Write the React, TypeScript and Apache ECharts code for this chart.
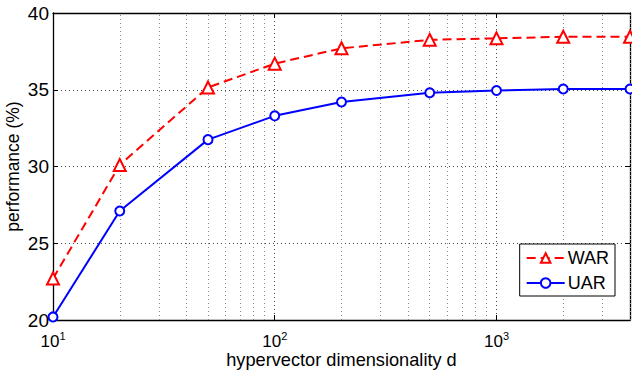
import React, { useEffect, useRef } from "react";
import * as echarts from "echarts";

const dims = [10, 20, 50, 100, 200, 500, 1000, 2000, 4000];
const warValues = [22.7, 30.1, 35.15, 36.7, 37.7, 38.25, 38.35, 38.45, 38.45];
const uarValues = [20.2, 27.1, 31.75, 33.3, 34.2, 34.8, 34.95, 35.05, 35.05];
const minorGrid = [20, 30, 40, 50, 60, 70, 80, 90, 200, 300, 400, 500, 600, 700, 800, 900, 2000, 3000, 4000];
const yTicks = [20, 25, 30, 35, 40];

const FONT = "Liberation Sans";

export default function App() {
  const ref = useRef<HTMLDivElement>(null);
  useEffect(() => {
    if (!ref.current) return;
    const chart = echarts.init(ref.current, null, { renderer: "svg" });
    const pow = (v: number) => {
      const e = Math.round(Math.log10(v));
      if (Math.abs(Math.pow(10, e) - v) < 1e-6 && v < 4000) return `{b|10}{s|${e}}`;
      return "";
    };
    chart.setOption({
      animation: false,
      textStyle: { fontFamily: FONT },
      grid: { left: 53, right: 2, top: 13, bottom: 51, containLabel: false, outerBoundsMode: "none" },
      legend: {
        orient: "vertical",
        right: 17,
        top: 244,
        backgroundColor: "#fff",
        borderColor: "#000",
        borderWidth: 1,
        borderRadius: 0,
        padding: [5, 6, 4, 6],
        itemGap: 7,
        itemWidth: 38,
        itemHeight: 12,
        textStyle: { fontFamily: FONT, fontSize: 18, color: "#000", padding: [0, 0, 0, -2] },
        data: ["WAR", "UAR"],
      },
      xAxis: [
        {
          type: "log",
          logBase: 10,
          min: 10,
          max: 4000,
          name: "hypervector dimensionality d",
          nameLocation: "middle",
          nameGap: 31,
          nameMoveOverlap: false,
          nameTextStyle: { fontFamily: FONT, fontSize: 18.2, color: "#000" },
          axisLine: { show: true, onZero: false, lineStyle: { color: "#000", width: 1.3 } },
          axisTick: { show: true, inside: true, length: 5, lineStyle: { color: "#000" } },
          axisLabel: {
            formatter: pow,
            margin: 10,
            showMaxLabel: false,
            rich: {
              b: { fontFamily: FONT, fontSize: 17, color: "#000" },
              s: { fontFamily: FONT, fontSize: 11, color: "#000", padding: [0, 0, 12, 0] },
            },
          },
          splitLine: { show: true, lineStyle: { color: "#444", type: [1, 3], width: 1 } },
        },
        {
          type: "log",
          logBase: 10,
          min: 10,
          max: 4000,
          position: "top",
          axisLine: { show: true, onZero: false, lineStyle: { color: "#000", width: 1.3 } },
          axisTick: { show: true, inside: true, length: 5, lineStyle: { color: "#000" } },
          axisLabel: { show: false },
          splitLine: { show: false },
        },
      ],
      yAxis: [
        {
          type: "value",
          min: 20,
          max: 40,
          interval: 5,
          name: "performance (%)",
          nameLocation: "middle",
          nameGap: 31,
          nameMoveOverlap: false,
          nameTextStyle: { fontFamily: FONT, fontSize: 17.5, color: "#000" },
          axisLine: { show: true, onZero: false, lineStyle: { color: "#000", width: 1.3 } },
          axisTick: { show: true, inside: true, length: 5, lineStyle: { color: "#000" } },
          axisLabel: {
            fontFamily: FONT,
            fontSize: 19,
            color: "#000",
            margin: 4,
            formatter: (v: number) => (yTicks.includes(v) ? String(v) : ""),
          },
          splitLine: { show: true, lineStyle: { color: "#444", type: [1, 3], width: 1 } },
        },
        {
          type: "value",
          min: 20,
          max: 40,
          interval: 5,
          position: "right",
          axisLine: { show: true, onZero: false, lineStyle: { color: "#000", width: 1.3 } },
          axisTick: { show: true, inside: true, length: 5, lineStyle: { color: "#000" } },
          axisLabel: { show: false },
          splitLine: { show: false },
        },
      ],
      series: [
        {
          name: "WAR",
          type: "line",
          data: dims.map((d, i) => [d, warValues[i]]),
          symbol: "triangle",
          symbolSize: 12,
          lineStyle: { color: "#ff0000", width: 2, type: [9, 5] },
          itemStyle: { color: "#fff", borderColor: "#ff0000", borderWidth: 2 },
          z: 3,
          markLine: {
            silent: true,
            symbol: "none",
            label: { show: false },
            lineStyle: { color: "#888", type: [1, 3], width: 1 },
            data: minorGrid.map((v) => ({ xAxis: v })),
            z: 1,
          },
        },
        {
          name: "UAR",
          type: "line",
          data: dims.map((d, i) => [d, uarValues[i]]),
          symbol: "circle",
          symbolSize: 9,
          lineStyle: { color: "#0000ff", width: 2 },
          itemStyle: { color: "#fff", borderColor: "#0000ff", borderWidth: 2 },
          z: 3,
        },
      ],
    });
    return () => chart.dispose();
  }, []);
  return <div ref={ref} style={{ width: 632, height: 371, position: "absolute", left: 0, top: 0 }} />;
}
